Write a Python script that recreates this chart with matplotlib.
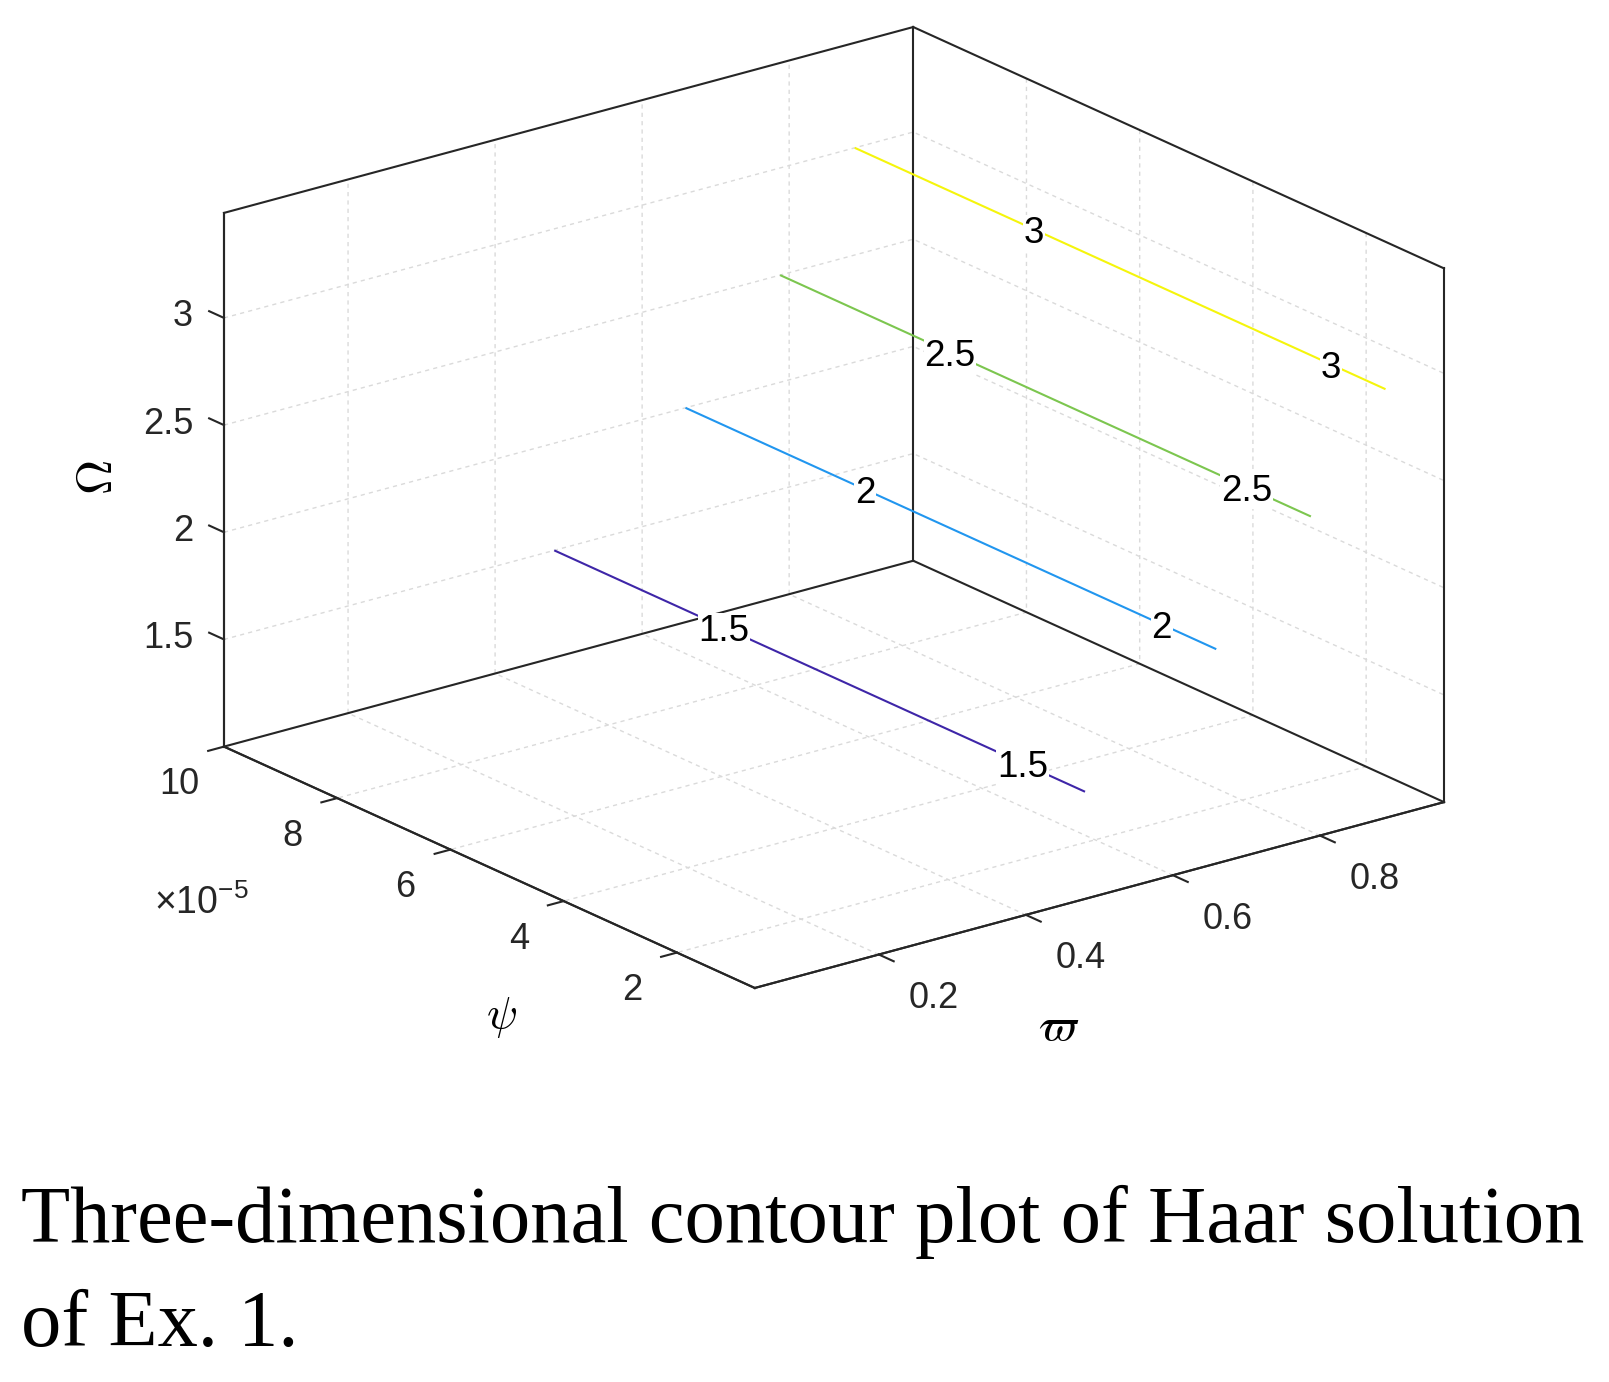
import numpy as np
import matplotlib
matplotlib.use("Agg")
import matplotlib.pyplot as plt
from mpl_toolkits.mplot3d import proj3d

# Haar collocation points (varpi) and time points (psi)
w_pts = [0.03125, 0.09375, 0.15625, 0.21875, 0.28125, 0.34375, 0.40625, 0.46875,
         0.53125, 0.59375, 0.65625, 0.71875, 0.78125, 0.84375, 0.90625, 0.96875]
psi_pts = [0.625e-5, 1.25e-5, 1.875e-5, 2.5e-5, 3.125e-5, 3.75e-5, 4.375e-5, 5.0e-5,
           5.625e-5, 6.25e-5, 6.875e-5, 7.5e-5, 8.125e-5, 8.75e-5, 9.375e-5, 10.0e-5]
# Haar solution Omega along varpi (nearly constant in psi)
omega_vals = [0.82, 0.88, 0.95, 1.03, 1.12, 1.22, 1.34, 1.47,
              1.63, 1.80, 1.99, 2.22, 2.47, 2.76, 3.09, 3.46]

levels = [1.5, 2.0, 2.5, 3.0]
level_colors = ["#3e26a8", "#2196ef", "#7cc64f", "#f5f50c"]
level_labels = ["1.5", "2", "2.5", "3"]
# psi position of the two inline labels on every contour line
label_psi = [[7.0e-5, 1.73e-5], [6.83e-5, 1.59e-5], [7.0e-5, 1.76e-5], [6.83e-5, 1.59e-5]]

x_ticks = [0.2, 0.4, 0.6, 0.8]
x_ticklabels = ["0.2", "0.4", "0.6", "0.8"]
y_ticks = [2e-5, 4e-5, 6e-5, 8e-5, 10e-5]
y_ticklabels = ["2", "4", "6", "8", "10"]
z_ticks = [1.5, 2.0, 2.5, 3.0]
z_ticklabels = ["1.5", "2", "2.5", "3"]
xlim = (w_pts[0], w_pts[-1])
ylim = (psi_pts[0], psi_pts[-1])
zlim = (1.0, 3.49)

W = 1609
H = 1382
DPI = 100
AX_COLOR = "#262626"
plt.rcParams["font.family"] = ["Liberation Sans", "DejaVu Sans"]
plt.rcParams["grid.color"] = "#dadada"
plt.rcParams["grid.linestyle"] = (0, (3, 3))
plt.rcParams["grid.linewidth"] = 1.0

fig = plt.figure(figsize=(W / DPI, H / DPI), dpi=DPI)
ax = fig.add_axes([0.1, 0.25, 0.8, 0.8 * W / H], projection="3d")
ax.set_proj_type("ortho")
ax.view_init(elev=20.5, azim=-127.6)
ax.set_box_aspect((1, 1, 0.655))
ax.computed_zorder = False

X, Y = np.meshgrid(w_pts, psi_pts)
Z = np.tile(omega_vals, (len(psi_pts), 1))
ax.contour(X, Y, Z, levels=levels, colors=level_colors, linewidths=1.5, zorder=3)

ax.set_xlim(xlim)
ax.set_ylim(ylim)
ax.set_zlim(zlim)
ax.set_xticks(x_ticks)
ax.set_yticks(y_ticks)
ax.set_zticks(z_ticks)
ax.set_xticklabels([])
ax.set_yticklabels([])
ax.set_zticklabels([])

for axis in (ax.xaxis, ax.yaxis, ax.zaxis):
    axis.set_pane_color((1, 1, 1, 0))
    axis.pane.set_edgecolor((1, 1, 1, 0))
    axis.line.set_color(AX_COLOR)
    axis.line.set_linewidth(1.5)
    axis._axinfo["tick"]["inward_factor"] = 0.0
    axis._axinfo["tick"]["outward_factor"] = 0.0
    axis.offsetText.set_visible(False)
    axis.label.set_visible(False)

x0, x1 = xlim
y0, y1 = ylim
z0, z1 = zlim
# box (back edges, MATLAB style)
edges = [((x0, x1), (y1, y1), (z0, z0)), ((x1, x1), (y0, y1), (z0, z0)),
         ((x0, x1), (y0, y0), (z0, z0)), ((x0, x0), (y0, y1), (z0, z0)),
         ((x0, x0), (y1, y1), (z0, z1)), ((x1, x1), (y1, y1), (z0, z1)),
         ((x1, x1), (y0, y0), (z0, z1)), ((x0, x1), (y1, y1), (z1, z1)),
         ((x1, x1), (y0, y1), (z1, z1))]
for ex, ey, ez in edges:
    ax.plot(ex, ey, ez, color=AX_COLOR, lw=1.5, zorder=2)

# outward tick marks
dx = 0.023 * (x1 - x0)
dy = 0.028 * (y1 - y0)
for t in x_ticks:
    ax.plot([t, t], [y0, y0 - dy], [z0, z0], color=AX_COLOR, lw=1.5, zorder=2)
for t in y_ticks:
    ax.plot([x0, x0 - dx], [t, t], [z0, z0], color=AX_COLOR, lw=1.5, zorder=2)
for t in z_ticks:
    ax.plot([x0, x0], [y1, y1 + dy], [t, t], color=AX_COLOR, lw=1.5, zorder=2)


def to_px(xs, ys, zs):
    px, py, _ = proj3d.proj_transform(np.array(xs, float), np.array(ys, float),
                                      np.array(zs, float), ax.get_proj())
    return ax.transData.transform(np.column_stack([px, py]))


# fit the projected box onto the target pixel box
fig.canvas.draw()
disp = to_px([x0, x1, x0, x1, x0, x1, x0, x1], [y0, y0, y1, y1, y0, y0, y1, y1],
             [z0, z0, z0, z0, z1, z1, z1, z1])
tx0, tx1 = 224, 1444
ty0, ty1 = H - 987, H - 28
s = (tx1 - tx0) / (disp[:, 0].max() - disp[:, 0].min())
bb = ax.get_position()
acx = (bb.x0 + bb.x1) / 2 * W
acy = (bb.y0 + bb.y1) / 2 * H
mcx = (disp[:, 0].max() + disp[:, 0].min()) / 2
mcy = (disp[:, 1].max() + disp[:, 1].min()) / 2
ncx = (tx0 + tx1) / 2 - s * (mcx - acx)
ncy = (ty0 + ty1) / 2 - s * (mcy - acy)
nw = bb.width * W * s
nh = bb.height * H * s
ax.set_position([(ncx - nw / 2) / W, (ncy - nh / 2) / H, nw / W, nh / H])
fig.canvas.draw()

# inline contour labels (horizontal, breaking the line)
for lev, lab, ps in zip(levels, level_labels, label_psi):
    xw = np.interp(lev, omega_vals, w_pts)
    pts = to_px([xw] * len(ps), ps, [lev] * len(ps))
    for px, py in pts:
        fig.text(px / W, py / H, lab, ha="center", va="center_baseline", fontsize=26.5,
                 color="black", bbox=dict(facecolor="white", edgecolor="none", pad=0.5))

# tick labels, placed next to the projected tick positions
TICK_FS = 26
pts = to_px(x_ticks, [y0] * len(x_ticks), [z0] * len(x_ticks))
for (px, py), lab in zip(pts, x_ticklabels):
    fig.text((px + 55) / W, (py - 40) / H, lab, fontsize=TICK_FS, color=AX_COLOR,
             ha="center", va="center_baseline")
pts = to_px([x0] * len(y_ticks), y_ticks, [z0] * len(y_ticks))
for (px, py), lab in zip(pts, y_ticklabels):
    fig.text((px - 45) / W, (py - 34) / H, lab, fontsize=TICK_FS, color=AX_COLOR,
             ha="center", va="center_baseline")
pts = to_px([x0] * len(z_ticks), [y1] * len(z_ticks), z_ticks)
for (px, py), lab in zip(pts, z_ticklabels):
    fig.text((px - 31) / W, (py + 5) / H, lab, fontsize=TICK_FS, color=AX_COLOR,
             ha="right", va="center_baseline")

# axis labels
fig.text(100 / W, 1 - 478 / H, r"$\Omega$", fontsize=35, rotation=90, ha="center", va="center",
         math_fontfamily="cm")
fig.text(501 / W, 1 - 1018 / H, r"$\psi$", fontsize=33, ha="center", va="center",
         math_fontfamily="cm")
fig.text(1059 / W, 1 - 1028 / H, r"$\varpi$", fontsize=34, ha="center", va="center",
         math_fontfamily="cm")
fig.text(154 / W, 1 - 914 / H, "×10$^{\\mathregular{-5}}$", fontsize=27, ha="left",
         va="baseline", color=AX_COLOR)

# caption
fig.text(21 / W, 1 - 1242 / H, "Three-dimensional contour plot of Haar solution",
         fontsize=58, family="Liberation Serif", va="baseline", ha="left")
fig.text(21 / W, 1 - 1346 / H, "of Ex. 1.", fontsize=58, family="Liberation Serif",
         va="baseline", ha="left")

fig.savefig("out.png", dpi=DPI)
